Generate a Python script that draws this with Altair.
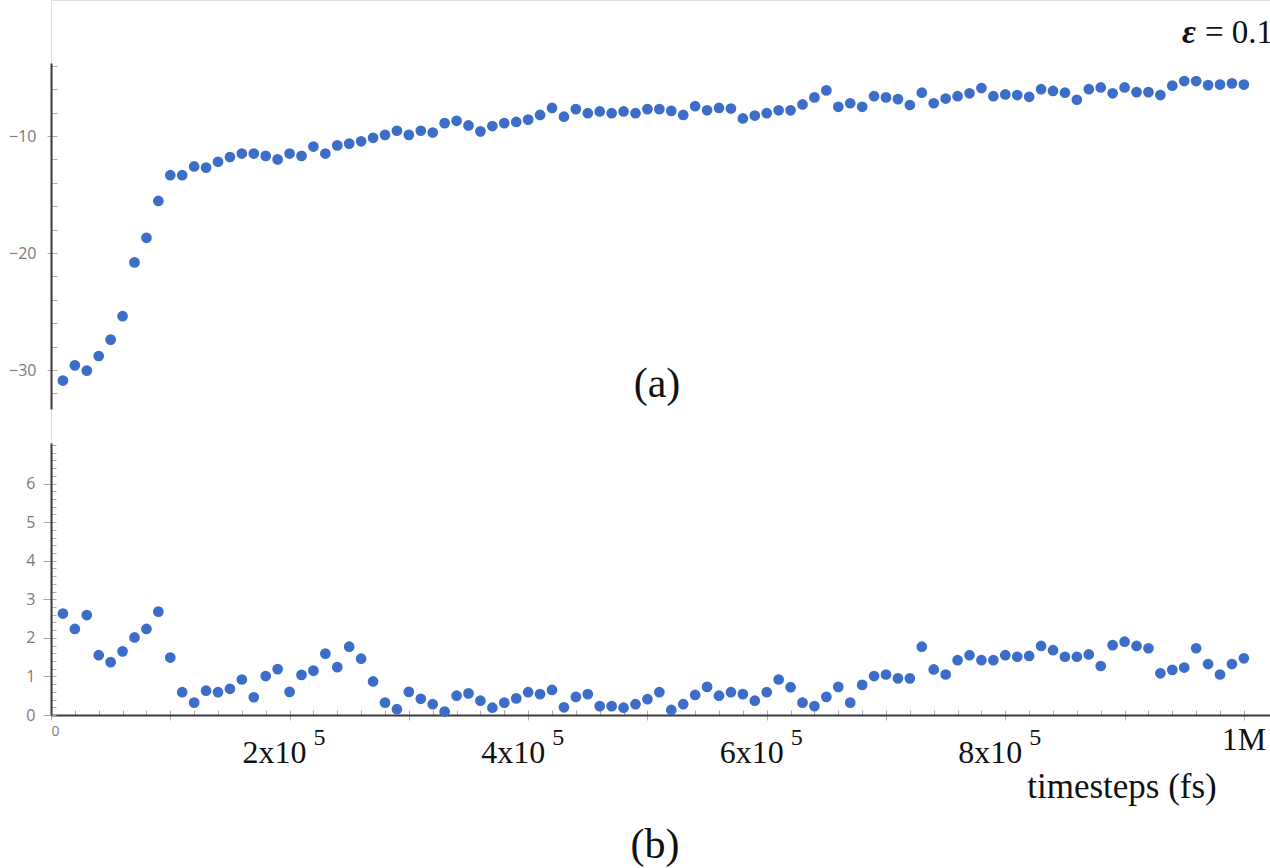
import altair as alt
import pandas as pd

# ---- data ----
timesteps = list(range(10000, 1000001, 10000))

panel_a = [
    -30.9, -29.6, -30.05, -28.8, -27.4, -25.4, -20.8, -18.7, -15.55, -13.35,
    -13.35, -12.6, -12.7, -12.2, -11.8, -11.5, -11.5, -11.7, -12.0, -11.5,
    -11.7, -10.9, -11.5, -10.8, -10.65, -10.45, -10.15, -9.9, -9.55, -9.9,
    -9.55, -9.7, -8.9, -8.7, -9.1, -9.6, -9.15, -8.9, -8.8, -8.6,
    -8.2, -7.6, -8.35, -7.7, -8.05, -7.9, -8.05, -7.9, -8.05, -7.7,
    -7.7, -7.85, -8.2, -7.45, -7.8, -7.6, -7.65, -8.5, -8.25, -8.05,
    -7.8, -7.8, -7.3, -6.7, -6.1, -7.5, -7.2, -7.5, -6.6, -6.7,
    -6.85, -7.35, -6.3, -7.2, -6.8, -6.6, -6.35, -5.9, -6.6, -6.45,
    -6.5, -6.65, -6.0, -6.15, -6.3, -6.9, -6.0, -5.85, -6.35, -5.85,
    -6.25, -6.25, -6.5, -5.7, -5.3, -5.3, -5.65, -5.6, -5.5, -5.6,
]

panel_b = [
    2.63, 2.23, 2.59, 1.55, 1.37, 1.65, 2.01, 2.23, 2.68, 1.49,
    0.59, 0.32, 0.63, 0.59, 0.68, 0.92, 0.46, 1.01, 1.19, 0.60,
    1.04, 1.15, 1.59, 1.24, 1.77, 1.46, 0.87, 0.32, 0.15, 0.60,
    0.42, 0.28, 0.09, 0.50, 0.56, 0.37, 0.19, 0.32, 0.43, 0.59,
    0.54, 0.65, 0.20, 0.47, 0.54, 0.23, 0.23, 0.19, 0.28, 0.41,
    0.59, 0.13, 0.28, 0.52, 0.73, 0.50, 0.59, 0.54, 0.37, 0.59,
    0.92, 0.72, 0.32, 0.23, 0.47, 0.73, 0.32, 0.78, 1.01, 1.05,
    0.95, 0.95, 1.77, 1.18, 1.05, 1.42, 1.55, 1.42, 1.42, 1.55,
    1.51, 1.53, 1.79, 1.68, 1.51, 1.51, 1.57, 1.27, 1.81, 1.90,
    1.79, 1.73, 1.08, 1.17, 1.23, 1.73, 1.32, 1.05, 1.32, 1.47,
]

a_label_values = [-30, -20, -10]
a_minor_ticks = [-32, -30, -28, -26, -24, -22, -20, -18, -16, -14, -12, -10, -8, -6, -4]
b_label_values = [0, 1, 2, 3, 4, 5, 6]
b_minor_ticks = [round(0.2 * k, 1) for k in range(0, 36)]
x_major_ticks = [0, 100000, 200000, 300000, 400000, 500000, 600000, 700000, 800000, 900000, 1000000]
x_minor_ticks = list(range(0, 1000001, 20000))

x_label_values = [200000, 400000, 600000, 800000]
x_label_mantissa = ["2x10", "4x10", "6x10", "8x10"]
x_label_exponent = ["5", "5", "5", "5"]
x_last_value = [1000000]
x_last_label = ["1M"]

df = pd.DataFrame({"t": timesteps, "a": panel_a, "b": panel_b})
lab_df = pd.DataFrame({"t": x_label_values, "m": x_label_mantissa, "e": x_label_exponent})
last_df = pd.DataFrame({"t": x_last_value, "m": x_last_label})

BLUE = "#3b6dc9"
AXIS = "#3a3a3a"
GRAY = "#7a7a7a"
SANS = "Open Sans"
SERIF = "Liberation Serif"

xs = alt.Scale(domain=[0, 1021900], nice=False, zero=False)
ya = alt.Scale(domain=[-33.33, -3.76], range=[409, 63], nice=False, zero=False)
yb = alt.Scale(domain=[0, 7.05], range=[715, 443], nice=False, zero=False)

base = alt.Chart(df)

top_pts = base.mark_circle(size=115, color=BLUE, opacity=1).encode(
    x=alt.X("t:Q", scale=xs, axis=None),
    y=alt.Y("a:Q", scale=ya, axis=alt.Axis(
        orient="left", values=a_label_values, title=None, grid=False,
        domainColor=AXIS, domainWidth=2, tickSize=4, tickColor="#aaaaaa",
        labelFont=SANS, labelFontSize=16, labelColor=GRAY, labelPadding=11)),
)

top_ticks = base.mark_circle(opacity=0).encode(
    x=alt.X("t:Q", scale=xs, axis=None),
    y=alt.Y("a:Q", scale=ya, axis=alt.Axis(
        orient="left", values=a_minor_ticks, title=None, grid=False,
        domain=False, labels=False, tickSize=6, offset=-6, tickColor="#aaaaaa")),
)

bot_pts = base.mark_circle(size=115, color=BLUE, opacity=1).encode(
    x=alt.X("t:Q", scale=xs, axis=alt.Axis(
        orient="bottom", values=x_major_ticks, title=None, grid=False,
        labelExpr="datum.value == 0 ? '0' : ''",
        domainColor=AXIS, domainWidth=2, tickSize=5, tickColor="#aaaaaa",
        labelFont=SANS, labelFontSize=14, labelColor=GRAY, labelPadding=4)),
    y=alt.Y("b:Q", scale=yb, axis=alt.Axis(
        orient="left", values=b_label_values, title=None, grid=False,
        domainColor=AXIS, domainWidth=2, tickSize=8, tickColor="#aaaaaa",
        labelFont=SANS, labelFontSize=16, labelColor=GRAY, labelPadding=8)),
)

bot_ticks = base.mark_circle(opacity=0).encode(
    x=alt.X("t:Q", scale=xs, axis=alt.Axis(
        orient="bottom", values=x_minor_ticks, title=None, grid=False,
        domain=False, labels=False, tickSize=5, offset=-5, tickColor="#aaaaaa")),
    y=alt.Y("b:Q", scale=yb, axis=alt.Axis(
        orient="left", values=b_minor_ticks, title=None, grid=False,
        domain=False, labels=False, tickSize=5, offset=-5, tickColor="#aaaaaa")),
)

mant = alt.Chart(lab_df).mark_text(
    font=SERIF, fontSize=32, align="center", baseline="alphabetic", dx=-15, color="#111111"
).encode(x=alt.X("t:Q", scale=xs, axis=None), y=alt.value(763), text="m:N")

expo = alt.Chart(lab_df).mark_text(
    font=SERIF, fontSize=24, align="left", baseline="alphabetic", dx=24, color="#111111"
).encode(x=alt.X("t:Q", scale=xs, axis=None), y=alt.value(745), text="e:N")

last = alt.Chart(last_df).mark_text(
    font=SERIF, fontSize=32, align="center", baseline="alphabetic", color="#111111"
).encode(x=alt.X("t:Q", scale=xs, axis=None), y=alt.value(750), text="m:N")

def note(txt, x, y, size, align="center", style="normal", weight="normal"):
    return alt.Chart(pd.DataFrame({"s": [txt]})).mark_text(
        font=SERIF, fontSize=size, align=align, baseline="alphabetic",
        color="#111111", fontStyle=style, fontWeight=weight
    ).encode(x=alt.value(x), y=alt.value(y), text="s:N")

xtitle = note("timesteps (fs)", 1071, 798, 35)
lab_a = note("(a)", 606, 397, 42)
lab_b = note("(b)", 604, 858, 42)
eps = note("ε", 1131, 43, 34, align="left", style="italic", weight="bold")
eps_val = note("= 0.1", 1154, 43, 33, align="left")

chart = alt.layer(
    top_ticks, top_pts, bot_ticks, bot_pts, mant, expo, last,
    xtitle, lab_a, lab_b, eps, eps_val
).resolve_scale(
    y="independent"
).resolve_axis(
    x="independent", y="independent"
).properties(
    width=1219, height=715,
    autosize=alt.AutoSizeParams(type="none"),
    padding={"left": 51, "top": 0, "right": 0, "bottom": 153},
).configure_view(stroke=None).configure(background="white")

chart.save("out.html", embed_options={"renderer": "svg", "actions": False})
